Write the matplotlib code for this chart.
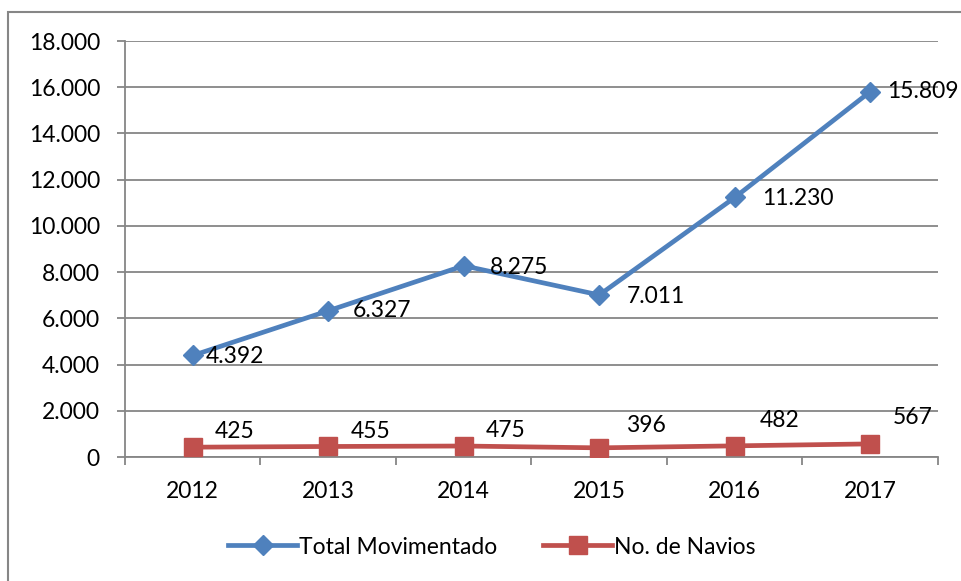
import matplotlib.pyplot as plt
from matplotlib.patches import Rectangle
from matplotlib.ticker import FuncFormatter, MultipleLocator

plt.rcParams['font.family'] = ['Lato', 'DejaVu Sans']

years = ['2012', '2013', '2014', '2015', '2016', '2017']
total_mov = [4392, 6327, 8275, 7011, 11230, 15809]
navios = [425, 455, 475, 396, 482, 567]

blue = '#4F81BD'
red = '#C0504D'
grid_c = '#868686'
fs = 16.5

# label offsets in points (dx, dy)
blue_off = [(9, -1), (18, 0), (19, -1), (20, -1), (20, -1), (12, 0)]
red_off = [(16, 11), (16, 11), (16, 11), (19, 16), (18, 18), (16, 19)]


def fmt(v, pos=None):
    return f"{int(v):,}".replace(",", ".")


fig = plt.figure(figsize=(9.62, 5.81), dpi=100)
W, H = 962, 581
ax = fig.add_axes([125 / W, 1 - 457 / H, (938 - 125) / W, (457 - 41) / H])

x = list(range(len(years)))
ax.plot(x, total_mov, color=blue, lw=3.4, marker='D', ms=10.5, mec=blue,
        label='Total Movimentado', zorder=3)
ax.plot(x, navios, color=red, lw=3.4, marker='s', ms=13.5, mec=red,
        label='No. de Navios', zorder=3)

for i, v in enumerate(total_mov):
    ax.annotate(fmt(v), (i, v), xytext=blue_off[i], textcoords='offset points',
                ha='left', va='center', fontsize=fs, color='black')
for i, v in enumerate(navios):
    ax.annotate(str(v), (i, v), xytext=red_off[i], textcoords='offset points',
                ha='left', va='center', fontsize=fs, color='black')

ax.set_xlim(-0.5, 5.5)
ax.set_ylim(0, 18000)
ax.yaxis.set_major_locator(MultipleLocator(2000))
ax.yaxis.set_major_formatter(FuncFormatter(fmt))
ax.set_xticks(x)
ax.set_xticklabels(years)
ax.set_xticks([i - 0.5 for i in range(len(years) + 1)], minor=True)
ax.tick_params(axis='x', which='major', length=0, pad=17, labelsize=fs)
ax.tick_params(axis='x', which='minor', length=6, width=1.3, color=grid_c)
ax.tick_params(axis='y', length=6, width=1.3, color=grid_c, labelsize=fs, pad=12)

ax.grid(axis='y', color=grid_c, lw=1.3)
ax.set_axisbelow(True)
for s in ['top', 'right']:
    ax.spines[s].set_visible(False)
for s in ['left', 'bottom']:
    ax.spines[s].set_color(grid_c)
    ax.spines[s].set_linewidth(1.3)

fig.legend(loc='center', bbox_to_anchor=(492 / W, 1 - 547 / H), ncol=2,
           frameon=False, fontsize=fs, handlelength=3.0, handletextpad=0.1,
           columnspacing=2.0)

fig.patches.append(Rectangle((8 / W, -0.1), 1.2, 1 - 12 / H + 0.1,
                             transform=fig.transFigure, fill=False,
                             edgecolor=grid_c, lw=1.5))

fig.savefig('out.png', dpi=100)
